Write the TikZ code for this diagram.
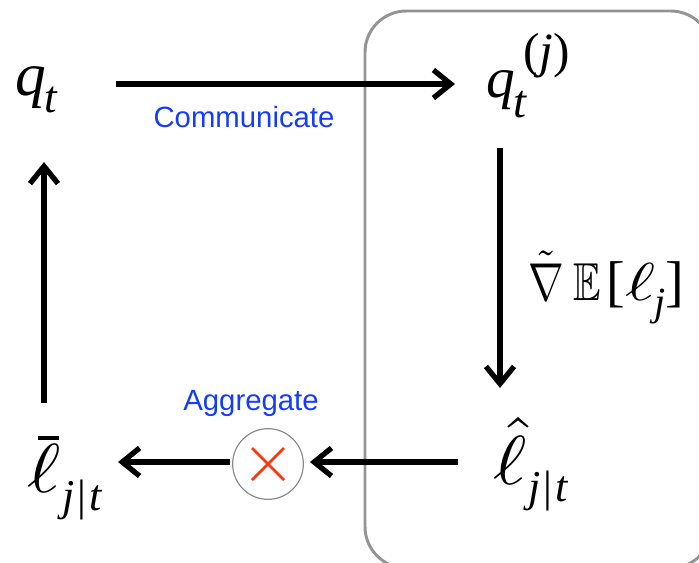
\documentclass[tikz,border=0pt]{standalone}
\usepackage{graphicx}
\usepackage{amssymb}
\usepackage{fontspec}
\setsansfont{Liberation Sans}
\setmainfont{Liberation Serif}
\usetikzlibrary{arrows.meta}
\definecolor{lblue}{RGB}{20,60,250}
\definecolor{xred}{RGB}{255,50,10}
\newcommand{\fs}[1]{\fontsize{#1}{#1}\selectfont}
% piece of text placed at an offset from the base point, in reference pixels
\newcommand{\putat}[4]{\makebox[0pt][l]{\kern#1\dimexpr0.75pt\relax\raisebox{#2\dimexpr0.75pt\relax}{\fs{#3}#4}}}
\newcommand{\jbart}{j\kern2.5pt\upshape|\kern2.5pt\itshape t}
\tikzset{
  x=0.75pt,y=-0.75pt,
  flow/.style={line width=4pt,-{Straight Barb[length=13pt,width=21pt,line width=4pt]}},
  mathlab/.style={inner sep=0pt,anchor=base west,font=\itshape},
  lab/.style={inner sep=0pt,text=lblue,font=\sffamily\fs{22}},
  panel/.style={line width=2.2pt,draw=black!42,rounded corners=31pt}
}
\begin{document}
\begin{tikzpicture}
\useasboundingbox (0,0) rectangle (699,562);
\begin{scope}
\clip (0,0) rectangle (699,562);
\draw[panel] (365,11) rectangle (712,568);
\end{scope}
\node[mathlab] (q) at (15,95) {\putat{0}{0}{46}{q}\putat{29}{-17}{34}{t}\phantom{\fs{46}q}};
\node[mathlab] (qj) at (486,97) {\putat{0}{0}{43}{q}\putat{27}{-20}{35}{t}\putat{37}{30}{37}{\upshape(\itshape j\upshape)}\phantom{\fs{43}q}};
\node[mathlab] (lh) at (493,484) {\putat{0}{0}{10}{\scalebox{6}[5.2]{$\hat\ell$}}\putat{35}{-17}{33}{\jbart}\phantom{\fs{50}q}};
\node[mathlab] (lb) at (27,492) {\putat{0}{0}{10}{\scalebox{6}[5.2]{$\ell$}}\putat{35}{-18}{33}{\jbart}\phantom{\fs{50}q}};
\draw[line width=3pt] ([shift={(11,-54)}]lb.base west) -- ([shift={(32,-54)}]lb.base west);
\node[circle,draw=black!45,line width=0.9pt,inner sep=0pt,minimum size=53pt] (x) at (268,464) {};
\draw[xred,line width=1.9pt] ([shift={(-16,-16)}]x.center) -- ([shift={(16,16)}]x.center) ([shift={(-16,16)}]x.center) -- ([shift={(16,-16)}]x.center);
\draw[flow] ([shift={(101,-11)}]q.base west) -- ([shift={(-31,-13)}]qj.base west);
\draw[flow] ([shift={(14,51)}]qj.base west) -- ([shift={(7,-96)}]lh.base west);
\draw[flow] ([shift={(-35,-22)}]lh.base west) -- ([xshift=4.5pt,yshift=1.5pt]x.east);
\draw[flow] ([xshift=-1.5pt,yshift=1.5pt]x.west) -- ([shift={(91,-30)}]lb.base west);
\draw[flow] ([shift={(17,-89)}]lb.base west) -- ([shift={(29,67)}]q.base west);
\node[lab] (comm) at (244,117) {Communicate};
\node[lab] (aggr) at (251,403) {Aggregate};
\node[inner sep=0pt,anchor=base west] (grad) at (528,300) {\putat{0}{0}{10}{\scalebox{3.2}[4]{$\tilde\nabla$}}\putat{45}{0}{10}{\scalebox{3.1}[4]{$\mathbb{E}$}}\putat{78}{0}{42}{[}\putat{97}{0}{10}{\scalebox{5.4}[4]{$\ell$}}\putat{126}{-15}{30}{\itshape j}\putat{137}{0}{42}{]}\phantom{\fs{42}q}};
\end{tikzpicture}
\end{document}
